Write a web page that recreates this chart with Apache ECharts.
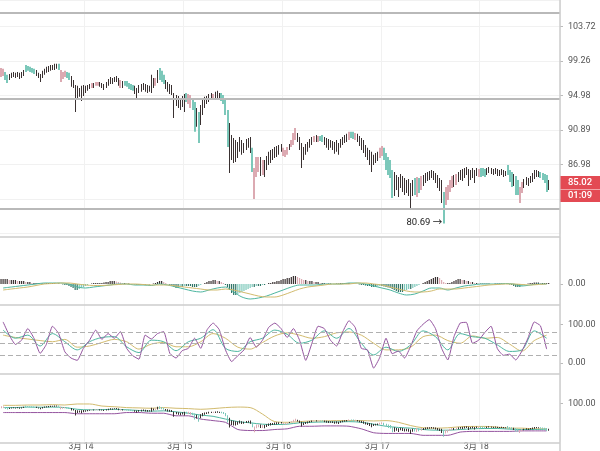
<!DOCTYPE html>
<html><head><meta charset="utf-8">
<script src="https://cdn.jsdelivr.net/npm/echarts@6/dist/echarts.min.js"></script>
<style>html,body{margin:0;padding:0;background:#fff}#c{width:600px;height:451px}</style>
</head><body><div id="c"></div>
<script>
// ---- price bars (30-minute) ----
const highs = [
98.41,98.29,97.91,97.54,97.66,97.79,97.91,97.79,97.91,97.79,
97.91,98.16,98.79,98.66,98.54,98.41,98.29,98.16,97.79,97.66,
98.04,98.29,98.54,98.66,98.79,98.79,98.92,98.92,98.92,98.16,
97.91,98.04,97.91,97.79,97.41,96.91,96.30,96.18,95.93,96.18,
96.30,96.18,96.30,96.42,96.54,96.54,96.67,96.67,96.67,96.54,
96.42,96.67,97.04,97.29,97.16,97.29,97.41,97.16,96.91,96.79,
96.79,96.79,96.54,96.42,96.30,96.18,95.93,96.30,96.42,96.54,
96.42,96.30,96.18,97.54,97.16,97.16,98.16,98.41,98.04,97.54,
96.91,96.67,96.42,96.30,95.32,95.08,94.96,94.71,94.96,95.20,
95.32,95.20,95.08,94.71,94.23,93.51,93.03,93.87,94.47,94.84,
94.96,95.20,95.32,95.20,95.45,95.57,95.32,95.32,95.08,94.47,
93.27,91.74,90.35,90.00,89.77,89.54,90.12,89.77,89.43,89.89,
90.00,90.12,88.87,86.62,87.85,87.85,87.85,87.51,87.51,87.96,
88.42,88.64,88.75,88.98,89.09,89.20,89.32,88.87,88.64,88.98,
89.32,89.77,90.58,91.16,90.58,90.12,89.43,88.98,89.32,89.54,
89.89,90.12,90.23,90.35,90.23,90.23,90.35,90.12,90.00,89.89,
89.77,89.66,89.54,89.77,89.43,89.89,90.12,90.35,90.47,90.70,
90.70,90.70,90.58,90.47,90.23,90.00,89.77,89.20,88.87,88.64,
88.42,88.08,88.30,88.42,88.87,89.09,88.87,88.30,87.85,87.51,
86.40,86.18,85.85,85.63,85.96,85.74,85.52,85.30,85.41,84.97,
85.30,85.52,85.63,85.52,85.74,85.85,86.07,86.18,86.29,86.40,
86.29,86.07,85.85,85.52,85.30,84.00,84.54,84.76,85.30,85.74,
85.85,85.96,86.18,86.40,86.51,86.62,86.73,86.51,86.40,86.62,
86.40,86.62,86.51,86.62,86.62,86.51,86.62,86.73,86.62,86.51,
86.62,86.51,86.40,86.51,86.40,86.29,86.96,86.40,86.18,85.96,
85.74,85.30,84.54,85.08,85.41,85.63,85.52,85.74,86.07,86.40,
86.40,86.29,86.18,86.07,85.96,85.85,85.30];
const lows = [
97.29,97.41,96.91,96.54,96.91,97.16,97.29,97.16,97.29,97.04,
97.16,97.41,97.91,98.04,97.91,97.79,97.66,97.41,97.16,96.67,
97.16,97.54,97.79,97.91,98.04,98.16,98.16,98.29,98.16,96.67,
97.04,97.29,97.16,96.91,96.06,95.93,93.03,94.47,94.84,94.35,
94.96,95.32,95.57,95.81,95.93,95.93,96.18,96.18,96.06,95.93,
95.69,95.93,96.18,96.42,96.42,96.67,96.67,96.18,95.93,95.93,
96.18,96.06,95.81,95.69,95.57,95.20,94.71,95.32,95.45,95.69,
95.45,95.32,95.45,95.32,95.93,96.18,96.54,96.91,96.67,96.42,
95.81,95.45,95.20,95.08,92.33,93.75,93.51,93.27,93.63,93.03,
94.23,93.99,93.51,93.27,90.70,91.28,89.43,91.51,92.68,93.51,
93.99,94.23,94.47,94.47,94.59,94.71,94.59,94.35,93.99,92.68,
88.98,86.07,87.51,87.18,87.29,87.74,88.42,88.08,88.30,88.64,
88.87,88.30,86.18,83.25,85.63,86.18,85.74,85.85,85.63,86.40,
86.96,87.18,87.51,87.74,87.85,88.08,88.42,87.96,87.85,88.08,
88.64,88.98,89.20,89.77,89.54,88.64,86.62,87.51,88.08,88.42,
88.87,89.20,89.54,89.54,89.54,89.66,89.54,89.20,88.87,88.64,
88.87,88.64,88.19,88.42,88.08,88.87,89.20,89.43,89.54,89.77,
90.00,89.89,89.77,89.54,89.09,88.64,88.30,87.85,87.51,86.96,
86.18,86.96,87.18,87.40,87.74,87.96,87.51,86.40,85.85,85.52,
83.36,83.57,84.21,83.46,84.43,84.00,83.68,83.89,83.57,82.30,
83.57,83.68,83.46,83.89,84.21,84.65,84.97,85.19,85.30,85.52,
85.30,84.97,84.43,84.10,82.82,80.69,82.61,83.14,84.00,84.43,
84.54,84.76,85.08,85.30,85.19,85.52,85.85,84.65,85.30,85.52,
84.97,85.74,85.63,85.63,85.74,85.63,85.85,86.07,85.96,85.85,
85.96,85.74,85.74,85.85,85.63,85.74,85.85,85.08,84.54,84.65,
83.68,83.68,82.82,83.89,84.43,84.76,84.65,84.97,85.08,85.41,
85.63,85.63,85.52,85.30,84.97,84.00,84.21];
// bar colouring state: d = neutral, t = bearish signal, p = bullish signal
const barState = ("ppttdddddd"+"ddtttttddd"+"ddddddddtp"+"ppttdddddd"+"ddddpdppdd"+
  "ddddddddpd"+"tttttddddd"+"dddddpdttt"+"dddddddddd"+"tppttdtddd"+
  "dddpdddttt"+"tddddddddd"+"ddtpppdpdd"+"dddddddppp"+"dpppdddddd"+
  "ddpdpttddd"+"dddddddddp"+"ttpddddddd"+"ddddpptttt"+"tddddddddd"+
  "dtptpddddd"+"dddddtpppp"+"dpdddddddd"+"ddptttdddd"+"ddddddtttd"+
  "ttppdddddd"+"ddttttd").split('');
const lastPrice = 85.02;
const countdown = '01:09';
const lowMarkPrice = 80.69;
const levelLines = [105.8, 94.62, 82.59];
const priceTickLabels = ['86.98', '90.89', '94.98', '99.26', '103.72'];
// time axis
const barsPerDay = 48, firstDay = 13, firstSlot = 7, emptySlots = 5;
const monthPrefix = '3月 ';

// ---- MACD panel ----
const macdStep = 4;
const macdLine = [-0.08,-0.06,-0.04,-0.02,0,0.02,0.02,0.02,0,-0.06,
-0.08,-0.06,-0.04,-0.02,0,0,-0.02,-0.02,-0.03,0,
-0.02,-0.06,-0.10,-0.14,-0.16,-0.12,-0.08,-0.06,-0.16,-0.26,
-0.30,-0.28,-0.24,-0.18,-0.12,-0.06,-0.02,-0.02,-0.02,0,
0,0,0.02,0.02,0,-0.04,-0.08,-0.12,-0.18,-0.22,
-0.20,-0.14,-0.08,-0.08,-0.12,-0.08,-0.04,-0.02,0,0,
0,0.01,0,-0.04,-0.02,0,0];
const signalLine = [-0.12,-0.10,-0.08,-0.06,-0.03,0,0.01,0.02,0.02,0,
-0.02,-0.03,-0.03,-0.02,-0.01,0,0,-0.01,-0.02,-0.02,
-0.02,-0.04,-0.06,-0.08,-0.10,-0.12,-0.12,-0.10,-0.12,-0.16,
-0.20,-0.24,-0.26,-0.26,-0.22,-0.16,-0.10,-0.06,-0.04,-0.02,
0,0,0,0.02,0.02,0,-0.02,-0.06,-0.10,-0.14,
-0.16,-0.16,-0.14,-0.10,-0.10,-0.10,-0.08,-0.06,-0.04,-0.02,
-0.01,0,0,-0.01,-0.02,-0.01,0];
const macdHist = [
0.10,0.10,0.10,0.10,0.08,0.08,0.08,0.08,0.06,0.06,0.06,0.06,0.04,0.04,0.04,
0.02,0.02,0.02,0.02,0.01,0.01,0.01,0.02,0.02,0.02,0.02,0.02,0.01,0.01,0,-0.01,-0.02,-0.02,
-0.04,-0.06,-0.08,-0.12,-0.12,-0.10,-0.08,-0.06,-0.04,-0.02,
0,0.01,0.02,0.02,0.02,0.02,0.02,0.03,0.04,0.04,
0.06,0.06,0.06,0.05,0.04,0.03,
0.02,0.02,0.01,0.01,0,0,
-0.01,-0.02,-0.02,-0.02,-0.02,-0.02,-0.01,-0.01,0,0.01,0.02,
0.04,0.06,0.06,0.04,
0.02,0,-0.02,-0.04,-0.06,-0.08,-0.08,-0.06,-0.06,-0.04,-0.04,
-0.04,-0.04,-0.06,-0.06,-0.06,-0.04,-0.02,0,
0.02,0.04,0.06,0.06,0.08,0.08,0.06,0.06,0.04,0.02,
-0.02,-0.06,-0.12,-0.18,-0.22,-0.22,-0.20,-0.18,-0.16,-0.14,-0.12,-0.10,
-0.08,-0.06,-0.06,-0.04,-0.04,-0.04,-0.02,-0.02,0,
0.02,0.02,0.04,0.04,0.06,0.06,0.08,0.10,0.10,0.12,0.12,0.14,0.16,0.16,0.14,0.12,
0.10,0.08,0.08,0.06,0.06,0.06,0.04,0.04,0.04,0.02,
0.02,0.02,0.01,0.01,0.01,0,0,0.01,0.01,0.02,0.02,0.02,0.02,0.02,0.01,0.01,0,0,
-0.01,-0.02,-0.02,-0.03,-0.04,-0.04,-0.06,-0.06,-0.06,-0.05,-0.04,-0.04,-0.05,-0.06,-0.07,
-0.08,-0.10,-0.12,-0.14,-0.16,-0.16,-0.16,-0.14,-0.12,-0.10,-0.10,-0.08,
-0.06,-0.04,-0.02,0,0.02,
0.04,0.06,0.08,0.10,0.12,0.14,0.14,0.12,0.08,
0.04,0.02,0.02,0.02,
0.04,0.06,0.08,0.10,0.10,0.08,0.08,0.06,0.06,0.04,0.04,
0.02,0.02,0.01,0.01,0.01,0.01,0.01,0.01,0,0,0.01,0.01,0.01,0.01,0,0,0,-0.01,-0.02,
-0.04,-0.06,-0.06,-0.06,-0.04,
-0.02,0,0.01,0.02,0.02,0.03,0.03,0.03,0.02,0.02,0.02,0.02,0.02];

// ---- KDJ panel ----
const jStep = 3;
const jLine = [106,72,48,59,89,64,25,48,95,76,
29,13,7,38,59,85,61,76,64,81,
38,19,10,72,62,76,81,25,13,32,
38,64,38,85,103,86,34,4,19,34,
66,41,59,92,103,89,66,89,59,7,
51,95,89,59,44,81,109,92,38,34,
-13,15,64,24,31,13,44,83,100,112,
89,38,8,68,103,105,51,59,79,95,
38,20,23,8,31,65,106,96,36];
const kdStep = 6;
const kLine = [85,64,72,44,76,55,34,55,66,68,42,27,59,55,32,55,64,86,38,30,
55,64,85,74,51,59,83,64,89,51,21,41,30,47,83,68,34,76,68,64,47,30,34,83,64];
const dLine = [72,66,62,58,55,61,41,44,53,61,55,36,49,53,42,42,55,76,64,41,
36,53,70,78,72,64,68,78,80,72,51,34,34,41,68,72,58,51,70,64,66,49,31,58,72];
const kdjLevels = [80, 50, 20];

// ---- bottom panel (price channel) ----
const chStep = 6;
const chUpper = [99.0,99.0,99.2,99.2,99.4,99.2,99.8,99.8,98.6,98.2,97.7,97.5,97.3,97.7,97.3,97.1,96.7,97.1,97.7,98.0,
97.7,93.9,89.5,89.1,89.5,89.9,89.9,90.1,90.1,90.1,89.9,90.1,89.1,87.2,85.9,85.7,85.9,86.5,86.7,86.7,86.3,85.7,85.7,85.3,85.3];
const chMid = [97.7,97.7,98.0,97.9,98.0,97.7,96.7,96.4,96.5,96.7,96.4,96.0,95.6,95.8,95.2,94.4,93.3,92.6,91.0,89.5,
88.8,88.0,87.8,88.0,88.8,89.1,89.3,89.3,89.5,89.1,88.0,86.8,86.1,85.7,84.9,84.5,84.5,84.9,85.3,85.5,85.5,85.1,84.9,84.9,85.1];
const chLower = [94.8,94.8,94.8,94.8,94.8,94.8,94.1,94.1,94.1,94.1,94.8,94.8,94.4,94.4,92.9,92.9,91.0,90.1,89.1,84.9,
84.3,84.3,84.9,85.3,86.8,86.8,87.0,87.0,86.8,85.3,83.0,82.6,82.6,82.6,81.5,81.5,81.5,83.4,83.8,83.8,83.8,83.8,84.1,84.1,84.1];

// ================= build =================
const stateColor = {d:'#3a3131', t:'#7cc8ba', p:'#dcaab2'};
const N = highs.length;
const categories = [];
for (let i = 0; i < N + emptySlots; i++) {
  const s = i + firstSlot;
  const day = firstDay + Math.floor(s / barsPerDay);
  const slot = s % barsPerDay;
  const hh = String(Math.floor(slot/2)).padStart(2,'0'), mm = slot%2 ? '30':'00';
  categories.push(slot === 0 ? monthPrefix + day : day + ' ' + hh + ':' + mm);
}
const isDayStart = (idx) => (idx + firstSlot) % barsPerDay === 0;

const base = Math.log(parseFloat(priceTickLabels[0]));
const I = (Math.log(parseFloat(priceTickLabels[4])) - base) / 4;
const mainH = 233.7, pxPerI = 34.5;
const yMin = base - 2*I;
const yMax = yMin + mainH / pxPerI * I;

const mainBars = highs.map((h,i) => [i, Math.log(h), Math.log(lows[i])]);
const lowBars = highs.map((h,i) => [i, h, lows[i]]);
const barRender = (wideColoured) => (params, api) => {
  const hi = api.coord([api.value(0), api.value(1)]);
  const lo = api.coord([api.value(0), api.value(2)]);
  const st = barState[params.dataIndex];
  const w = (wideColoured && st !== 'd') ? 2 : 1;
  const x = w === 1 ? Math.floor(hi[0]) : Math.round(hi[0]) - 1;
  return {type: 'rect', shape: {x: x, y: hi[1], width: w, height: Math.max(1, lo[1] - hi[1])},
          style: {fill: stateColor[st]}};
};
const histData = macdHist.map((v,i) => {
  const prev = i > 0 ? macdHist[i-1] : v;
  let c;
  if (v >= 0) c = v >= prev ? '#3a3131' : '#dcaab2';
  else c = v <= prev ? '#2f7466' : '#7cc8ba';
  return {value: v, itemStyle: {color: c}};
});
const stepped = (arr, step) => arr.map((v,k) => [k*step + 1, v]);

const font = 'Roboto, "Noto Sans CJK SC", sans-serif';
const grids = [
  {left: 0, right: 40, top: 0, height: mainH},
  {left: 0, right: 40, top: 237, height: 68},
  {left: 0, right: 40, top: 305, height: 69},
  {left: 0, right: 40, top: 374, height: 69}
];
const xAxes = grids.map((g, gi) => ({
  type: 'category', gridIndex: gi, data: categories, boundaryGap: true,
  axisLine: {show: false}, axisTick: {show: false},
  axisLabel: gi === 3 ? {interval: (idx) => isDayStart(idx), fontSize: 8.5, color: '#555', margin: 1,
      fontFamily: font, padding: [0, 9, 0, 0], formatter: v => v} : {show: false},
  splitLine: {show: true, interval: (idx) => isDayStart(idx), lineStyle: {color: '#f1f1f1', width: 1}}
}));
const lblStyle = {fontSize: 9, color: '#555', margin: 8, fontFamily: font};
const yAxes = [
  {type: 'value', gridIndex: 0, position: 'right', min: yMin, max: yMax, interval: I, scale: true,
   axisLine: {show: false}, axisTick: {show: true, length: 3, lineStyle: {color: '#bbb'}},
   axisLabel: Object.assign({showMinLabel: false, showMaxLabel: false,
     formatter: v => { const k = Math.round((v - base) / I); return priceTickLabels[k] || ''; }}, lblStyle),
   splitLine: {lineStyle: {color: '#f1f1f1'}}},
  {type: 'value', gridIndex: 1, position: 'right', min: -0.42, max: 0.94,
   axisLine: {show: false}, axisTick: {show: true, length: 3, customValues: [0], lineStyle: {color: '#bbb'}},
   axisLabel: Object.assign({customValues: [0], formatter: v => v.toFixed(2)}, lblStyle), splitLine: {show: false}},
  {type: 'value', gridIndex: 2, position: 'right', min: -28.1, max: 149.6,
   axisLine: {show: false}, axisTick: {show: true, length: 3, customValues: [0, 100], lineStyle: {color: '#bbb'}},
   axisLabel: Object.assign({customValues: [0, 100], formatter: v => v.toFixed(2)}, lblStyle), splitLine: {show: false}},
  {type: 'value', gridIndex: 3, position: 'right', min: 77.9, max: 117.3,
   axisLine: {show: false}, axisTick: {show: true, length: 3, customValues: [100], lineStyle: {color: '#bbb'}},
   axisLabel: Object.assign({customValues: [100], formatter: v => v.toFixed(2)}, lblStyle), splitLine: {show: false}}
];
const lineS = (name, data, xi, color, smooth) => ({
  name, type: 'line', xAxisIndex: xi, yAxisIndex: xi, data, showSymbol: false, symbol: 'none',
  smooth: smooth, lineStyle: {width: 1, color}, silent: true, z: 3
});

const option = {
  animation: false,
  backgroundColor: '#ffffff',
  grid: grids,
  xAxis: xAxes,
  yAxis: yAxes,
  series: [
    {type: 'custom', xAxisIndex: 0, yAxisIndex: 0, data: mainBars, renderItem: barRender(true),
     encode: {x: 0, y: [1, 2]}, silent: true, z: 4,
     markLine: {silent: true, symbol: ['none','none'], label: {show: false},
       lineStyle: {color: '#b9b9b9', width: 2, type: 'solid'},
       data: levelLines.map(p => ({yAxis: Math.log(p)}))}},
    {type: 'bar', xAxisIndex: 1, yAxisIndex: 1, data: histData, barWidth: 1.2, silent: true},
    lineS('MACD', stepped(macdLine, macdStep), 1, '#4db6a0', 0.3),
    lineS('Signal', stepped(signalLine, macdStep), 1, '#d2bb6e', 0.3),
    Object.assign(lineS('D', stepped(dLine, kdStep), 2, '#d2bb6e', 0.3), {
      markLine: {silent: true, symbol: ['none','none'], label: {show: false},
        lineStyle: {color: '#b0b0b0', width: 1.2, type: [5, 3]},
        data: kdjLevels.map(v => ({yAxis: v}))}}),
    lineS('K', stepped(kLine, kdStep), 2, '#4db6a0', 0.3),
    lineS('J', stepped(jLine, jStep), 2, '#94549f', 0.15),
    {type: 'custom', xAxisIndex: 3, yAxisIndex: 3, data: lowBars, renderItem: barRender(false),
     encode: {x: 0, y: [1, 2]}, silent: true, z: 4},
    lineS('Upper', stepped(chUpper, chStep), 3, '#d2bb6e', 0.3),
    lineS('Mid', stepped(chMid, chStep), 3, '#4db6a0', 0.3),
    lineS('Lower', stepped(chLower, chStep), 3, '#94549f', 0.2)
  ]
};
const chart = echarts.init(document.getElementById('c'), null, {renderer: 'canvas'});
chart.setOption(option);

// overlays positioned through the chart's own scales
const lastIdx = N - 1;
const pLast = chart.convertToPixel({gridIndex: 0}, [lastIdx, Math.log(lastPrice)]);
let lowIdx = 0; lows.forEach((v,i) => { if (v < lows[lowIdx]) lowIdx = i; });
const pLow = chart.convertToPixel({gridIndex: 0}, [lowIdx, Math.log(lowMarkPrice)]);
const sepColor = '#cdcdcd';
const hline = (y) => ({type: 'line', shape: {x1: 0, y1: y, x2: 560, y2: y}, style: {stroke: sepColor, lineWidth: 1.5}, silent: true, z: 10});
chart.setOption({graphic: [
  hline(237), hline(305), hline(374), hline(443),
  {type: 'line', shape: {x1: 560, y1: 0, x2: 560, y2: 451}, style: {stroke: sepColor, lineWidth: 1.5}, silent: true, z: 10},
  {type: 'rect', shape: {x: 560.5, y: pLast[1] - 6.5, width: 40, height: 13}, style: {fill: '#e34a53'}, z: 20},
  {type: 'rect', shape: {x: 560.5, y: pLast[1] + 7, width: 40, height: 12.5}, style: {fill: '#e34a53'}, z: 20},
  {type: 'text', x: 580, y: pLast[1], style: {text: lastPrice.toFixed(2), fill: '#fff', font: '500 9.5px ' + font, align: 'center', verticalAlign: 'middle'}, z: 21},
  {type: 'text', x: 580, y: pLast[1] + 13.3, style: {text: countdown, fill: '#fff', font: '500 9.5px ' + font, align: 'center', verticalAlign: 'middle'}, z: 21},
  {type: 'text', x: pLow[0] - 1.5, y: pLow[1] - 1, style: {text: lowMarkPrice.toFixed(2) + ' →', fill: '#222', font: '9.5px ' + font, align: 'right', verticalAlign: 'middle'}, z: 21}
]});
</script></body></html>
